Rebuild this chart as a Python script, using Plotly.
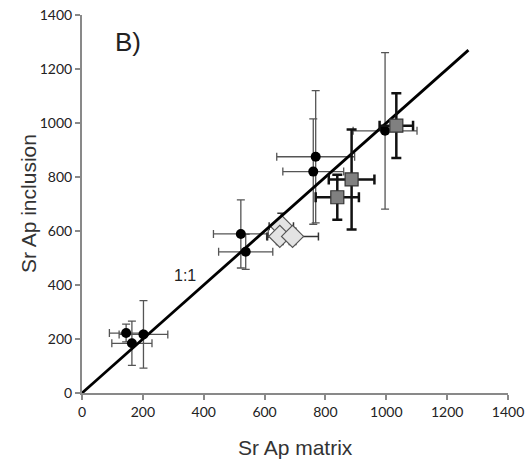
import plotly.graph_objects as go

# Black circles
circ_x = [145, 202, 164, 522, 538, 768, 760, 996]
circ_y = [222, 217, 184, 589, 523, 875, 820, 971]
circ_xerr = [55, 80, 66, 90, 89, 128, 100, 105]
circ_yerr = [33, 125, 82, 126, 65, 245, 195, 290]

# Light grey diamonds
dia_x = [655, 650, 692]
dia_y = [618, 580, 580]
dia_xerr = [40, 40, 85]
dia_yerr = [48, 30, 30]

# Grey squares
sq_x = [1033, 886, 839]
sq_y = [990, 791, 725]
sq_xerr = [55, 75, 71]
sq_yerr = [120, 185, 83]

# 1:1 line
line_x = [0, 1270]
line_y = [0, 1270]

ticks = [0, 200, 400, 600, 800, 1000, 1200, 1400]

fig = go.Figure()

fig.add_trace(go.Scatter(
    x=circ_x, y=circ_y, mode="markers",
    marker=dict(symbol="circle", size=10, color="black"),
    error_x=dict(type="data", array=circ_xerr, color="#555555", thickness=1.3, width=4),
    error_y=dict(type="data", array=circ_yerr, color="#555555", thickness=1.3, width=4),
    showlegend=False))

fig.add_trace(go.Scatter(
    x=dia_x, y=dia_y, mode="markers",
    marker=dict(symbol="diamond", size=17, color="#e3e3e3",
                line=dict(color="#555555", width=1.2)),
    error_x=dict(type="data", array=dia_xerr, color="#333333", thickness=1.5, width=4),
    error_y=dict(type="data", array=dia_yerr, color="#333333", thickness=1.5, width=4),
    showlegend=False))

fig.add_trace(go.Scatter(
    x=line_x, y=line_y, mode="lines",
    line=dict(color="black", width=2.8), showlegend=False))

fig.add_trace(go.Scatter(
    x=sq_x, y=sq_y, mode="markers",
    marker=dict(symbol="square", size=13, color="#808080",
                line=dict(color="#333333", width=1.2)),
    error_x=dict(type="data", array=sq_xerr, color="#111111", thickness=2.5, width=5),
    error_y=dict(type="data", array=sq_yerr, color="#111111", thickness=2.5, width=5),
    showlegend=False))

axis_common = dict(
    range=[0, 1400], tickvals=ticks, ticks="outside", ticklen=5, tickwidth=2,
    tickcolor="#898989", showline=True, linecolor="#898989", linewidth=2,
    showgrid=False, zeroline=False, automargin=False,
    tickfont=dict(family="Lato, Liberation Sans, sans-serif", size=14, color="#222222"),
)

title_font = dict(family="Liberation Sans, Arial, sans-serif", size=21, color="#333333")

plot_w = 529 - 82 - 21
plot_h = 474 - 15 - 81

fig.update_layout(
    width=529, height=474,
    margin=dict(l=82, r=21, t=15, b=81),
    plot_bgcolor="white", paper_bgcolor="white",
    xaxis=dict(**axis_common),
    yaxis=dict(**axis_common),
    annotations=[
        dict(x=152, y=1300, xref="x", yref="y", text="B)", showarrow=False,
             font=dict(family="Liberation Sans, Arial, sans-serif", size=26, color="#222222")),
        dict(x=339, y=437, xref="x", yref="y", text="1:1", showarrow=False,
             font=dict(family="Liberation Sans, Arial, sans-serif", size=16, color="#222222")),
        dict(x=(295 - 82) / plot_w, y=-(447 - 393) / plot_h, xref="x domain", yref="y domain",
             xanchor="center", yanchor="middle", text="Sr Ap matrix",
             showarrow=False, font=title_font),
        dict(x=-(82 - 28) / plot_w, y=(393 - 204) / plot_h, xref="x domain", yref="y domain",
             xanchor="center", yanchor="middle", text="Sr Ap inclusion",
             showarrow=False, textangle=-90, font=title_font),
    ],
)

fig.write_html("out.html", post_script="document.body.style.margin='0px';",
               config={"displayModeBar": False})
